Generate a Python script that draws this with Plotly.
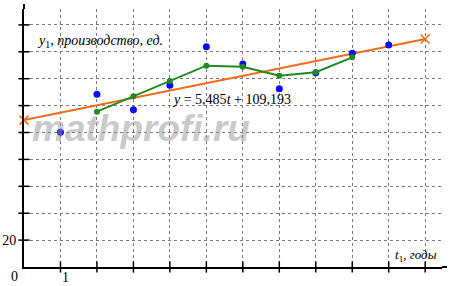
import plotly.graph_objects as go

# data
years = [1, 2, 3, 4, 5, 6, 7, 8, 9, 10]
production = [100.1, 128.4, 117.0, 135.1, 163.8, 150.9, 132.6, 144.5, 158.9, 165.1]
ma_years = [2, 3, 4, 5, 6, 7, 8, 9]
moving_avg = [115.5, 126.9, 138.3, 149.7, 148.9, 142.2, 144.8, 155.9]
trend_years = [0, 11]
trend_vals = [109.193, 169.528]
x_ticks = [1, 2, 3, 4, 5, 6, 7, 8, 9, 10, 11]
y_ticks = [20, 40, 60, 80, 100, 120, 140, 160, 180]
y_labels = ["20", "", "", "", "", "", "", "", ""]

BLUE = "#0a0aff"
GREEN = "#1f8a1f"
ORANGE = "#f26a1b"
SERIF = "Liberation Serif"

W, H = 451, 286
ML, MR, MT, MB = 24, 9, 9, 19
PW, PH = W - ML - MR, H - MT - MB
X_MAX = PW / 36.47
Y_MAX = PH / 1.345

fig = go.Figure()

# axis tick marks crossing the axes
fig.add_trace(go.Scatter(
    x=[0] * len(y_ticks), y=y_ticks, mode="markers", cliponaxis=False,
    marker=dict(symbol="line-ew", size=8, line=dict(width=1.5, color="black")),
    hoverinfo="skip", showlegend=False))
fig.add_trace(go.Scatter(
    x=x_ticks, y=[0] * len(x_ticks), mode="markers", cliponaxis=False,
    marker=dict(symbol="line-ns", size=8, line=dict(width=1.5, color="black")),
    hoverinfo="skip", showlegend=False))

# arrow heads of the axes
fig.add_trace(go.Scatter(
    x=[0], y=[Y_MAX + 4 / 1.345], mode="markers", cliponaxis=False,
    marker=dict(symbol="triangle-up", size=8, color="black"),
    hoverinfo="skip", showlegend=False))
fig.add_trace(go.Scatter(
    x=[X_MAX + 4 / 36.47], y=[0], mode="markers", cliponaxis=False,
    marker=dict(symbol="triangle-right", size=8, color="black"),
    hoverinfo="skip", showlegend=False))

# trend line
fig.add_trace(go.Scatter(
    x=trend_years, y=trend_vals, mode="lines+markers", cliponaxis=False,
    line=dict(color=ORANGE, width=2),
    marker=dict(symbol="x-thin", size=9, line=dict(width=1.5, color=ORANGE)),
    showlegend=False))

# data points
fig.add_trace(go.Scatter(
    x=years, y=production, mode="markers",
    marker=dict(color=BLUE, size=7), showlegend=False))

# moving average
fig.add_trace(go.Scatter(
    x=ma_years, y=moving_avg, mode="lines+markers",
    line=dict(color=GREEN, width=2),
    marker=dict(color=GREEN, size=6), showlegend=False))

fig.update_layout(
    width=W, height=H,
    margin=dict(l=ML, r=MR, t=MT, b=MB, autoexpand=False),
    paper_bgcolor="white", plot_bgcolor="white",
    font=dict(family=SERIF, size=14, color="black"),
    xaxis=dict(range=[0, X_MAX], tickvals=x_ticks, showticklabels=False,
               showgrid=True, gridcolor="#7a7a7a", gridwidth=1, griddash="dot",
               zeroline=False, showline=True, linecolor="black", linewidth=2,
               ticks=""),
    yaxis=dict(range=[0, Y_MAX], tickvals=y_ticks, ticktext=y_labels,
               showgrid=True, gridcolor="#7a7a7a", gridwidth=1, griddash="dot",
               zeroline=False, showline=True, linecolor="black", linewidth=2,
               ticks="", ticklabelstandoff=3,
               tickfont=dict(family=SERIF, size=14, color="black")),
)

# axis shafts beyond the plot area
fig.add_shape(type="line", xref="paper", yref="paper", x0=0, x1=0,
              y0=1, y1=1 + 5 / PH, line=dict(color="black", width=2))
fig.add_shape(type="line", xref="paper", yref="paper", x0=1, x1=1 + 5 / PW,
              y0=0, y1=0, line=dict(color="black", width=2))

# texts
fig.add_annotation(x=-10 / PW, y=-9 / PH, xref="paper", yref="paper", text="0",
                   xanchor="center", yanchor="middle",
                   showarrow=False, font=dict(family=SERIF, size=14))
fig.add_annotation(x=1 / X_MAX + 5 / PW, y=-10 / PH, xref="paper", yref="paper",
                   text="1", xanchor="center", yanchor="middle",
                   showarrow=False, font=dict(family=SERIF, size=14))
fig.add_annotation(x=0.29, y=167.3, xref="x", yref="y", xanchor="left",
                   text="<i>y</i><sub>1</sub><i>, производство, ед.</i>",
                   showarrow=False, font=dict(family=SERIF, size=14))
fig.add_annotation(x=3.99, y=124.2, xref="x", yref="y", xanchor="left",
                   text="<i>y</i> = 5,485<i>t</i> + 109,193",
                   showarrow=False, font=dict(family=SERIF, size=14))
fig.add_annotation(x=11.39, y=8.5, xref="x", yref="y", xanchor="right",
                   text="<i>t</i><sub>1</sub><i>, годы</i>",
                   showarrow=False, font=dict(family=SERIF, size=13))
fig.add_annotation(x=3.2, y=103, xref="x", yref="y",
                   text="<b><i>mathprofi.ru</i></b>", showarrow=False,
                   font=dict(family="Liberation Sans", size=37,
                             color="rgba(150,150,150,0.5)"))

fig.write_html("out.html")
